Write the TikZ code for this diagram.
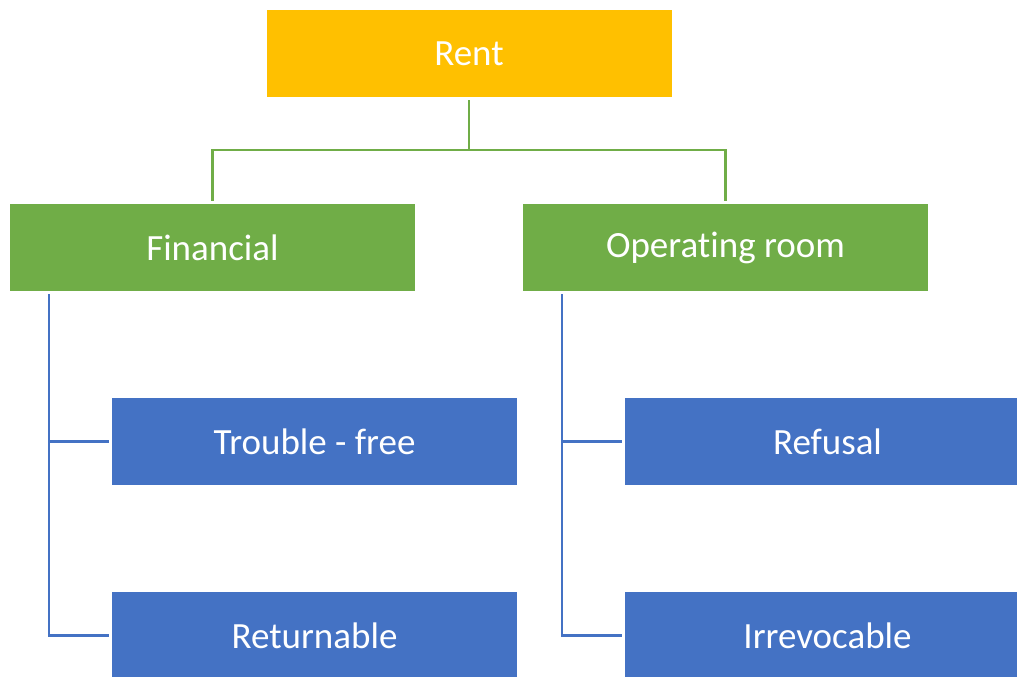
\documentclass[tikz,border=0pt]{standalone}
\usepackage{fontspec}
\setmainfont{Carlito}[Ligatures=NoCommon]
\definecolor{rentorange}{HTML}{FFC000}
\definecolor{kindgreen}{HTML}{70AD47}
\definecolor{typeblue}{HTML}{4472C4}
\tikzset{
	box/.style={minimum width=405pt, minimum height=87pt, inner sep=0pt, outer sep=3pt, text=white, font=\fontsize{37}{40}\selectfont},
	topbox/.style={box, fill=rentorange},
	kindbox/.style={box, fill=kindgreen},
	typebox/.style={box, fill=typeblue},
	greenline/.style={draw=kindgreen, line width=2.5pt},
	blueline/.style={draw=typeblue, line width=2.5pt}
}
\begin{document}
\begin{tikzpicture}[x=1pt, y=-1pt]
		\clip (0,0) rectangle (1017,677);
		\fill[white] (0,0) rectangle (1017,677);

		\node[topbox] (rent) at (469,53.5) {Rent};

		\node[kindbox] (fin) at (212.5,247.5) {Financial};
		\node[kindbox] (ops) at (725.5,247.5) {Operating room};

		\node[typebox] (trouble) at (314.5,441.5) {Trouble - free};
		\node[typebox] (ret) at (314.5,635.5) {Returnable};
		\node[typebox] (refusal) at (827.5,441.5) {Refusal};
		\node[typebox] (irrev) at (827.5,635.5) {Irrevocable};

		\draw[greenline] (rent.south) -- ++(0,50) -| (fin.north);
		\draw[greenline] (rent.south) ++(0,50) -| (ops.north);

		\draw[blueline] (fin.south west) ++(42,0) |- (trouble.west);
		\draw[blueline] (fin.south west) ++(42,0) |- (ret.west);
		\draw[blueline] (ops.south west) ++(42,0) |- (refusal.west);
		\draw[blueline] (ops.south west) ++(42,0) |- (irrev.west);
	\end{tikzpicture}
\end{document}
